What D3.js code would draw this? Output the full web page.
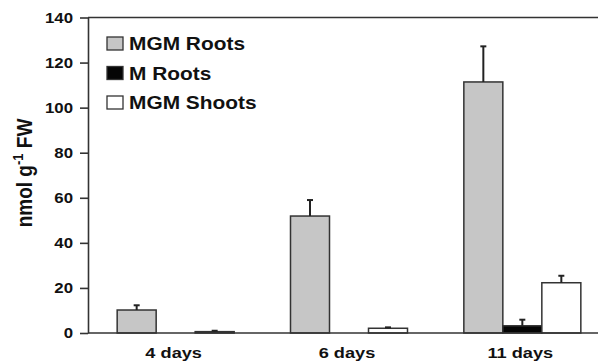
<!DOCTYPE html>
<html>
<head>
	<script src="https://cdn.jsdelivr.net/npm/d3@7"></script>
	<style>
		body { margin: 0; background: #fff; }
		text { font-family: "Liberation Sans", Arial, sans-serif; font-weight: bold; fill: #111; }
	</style>
</head>
<body>
	<script>
		// data
		var categories = ["4 days", "6 days", "11 days"];
		var seriesNames = ["MGM Roots", "M Roots", "MGM Shoots"];
		var seriesFill = ["#c6c6c6", "#050505", "#ffffff"];
		var mgmRoots = [10.2, 51.9, 111.4];
		var mgmRootsErr = [2.1, 7.1, 15.8];
		var mRoots = [0, 0, 3.2];
		var mRootsErr = [0, 0, 2.7];
		var mgmShoots = [0.6, 2.1, 22.3];
		var mgmShootsErr = [0.4, 0.4, 3.1];
		var yTicks = [0, 20, 40, 60, 80, 100, 120, 140];

		var W = 598, H = 363;
		var plotLeft = 88, plotTop = 17.5, plotBottom = 333;

		var svg = d3.select("body").append("svg")
			.attr("width", W)
			.attr("height", H);

		var x = d3.scaleBand()
			.domain(categories)
			.range([89, 609])
			.paddingInner(0.325)
			.paddingOuter(0.1625);

		var xs = d3.scaleBand()
			.domain(seriesNames)
			.range([0, x.bandwidth()]);

		var y = d3.scaleLinear()
			.domain([0, 140])
			.range([plotBottom, plotTop]);

		// table for the bars
		var vals = [mgmRoots, mRoots, mgmShoots];
		var errs = [mgmRootsErr, mRootsErr, mgmShootsErr];
		var rows = [];
		seriesNames.forEach(function(s, i){
			categories.forEach(function(c, j){
				rows.push({ s: s, c: c, v: vals[i][j], e: errs[i][j], fill: seriesFill[i] });
			});
		});

		//top frame line
		svg.append("line")
			.attr("x1", plotLeft).attr("x2", W)
			.attr("y1", y(140)).attr("y2", y(140))
			.style("stroke", "#333").style("stroke-width", 1.6);

		// y axis
		var yAxis = svg.append("g")
			.attr("transform", "translate(" + plotLeft + ",0)")
			.call(d3.axisLeft(y).tickValues(yTicks).tickSize(8).tickSizeOuter(0));
		yAxis.select(".domain").style("stroke", "#333").style("stroke-width", 1.6);
		yAxis.selectAll(".tick line").style("stroke", "#333").style("stroke-width", 1.6);
		yAxis.selectAll(".tick text")
			.attr("x", null)
			.attr("dy", "0.35em")
			.attr("transform", "translate(-15,0) scale(1.2,1)")
			.style("font-size", "14px")
			.style("font-family", "'Liberation Sans', Arial, sans-serif")
			.style("font-weight", "bold")
			.style("fill", "#111");

		// bars
		svg.selectAll("rect.bar")
			.data(rows.filter(function(d){ return d.v > 0; }))
			.enter().append("rect")
			.attr("class", "bar")
			.attr("x", function(d){ return x(d.c) + xs(d.s); })
			.attr("width", xs.bandwidth())
			.attr("y", function(d){ return y(d.v); })
			.attr("height", function(d){ return y(0) - y(d.v); })
			.style("fill", function(d){ return d.fill; })
			.style("stroke", "#333")
			.style("stroke-width", 1.5);

		// error bars (upper only)
		var eb = svg.selectAll("g.err")
			.data(rows.filter(function(d){ return d.e > 0; }))
			.enter().append("g")
			.attr("class", "err")
			.attr("transform", function(d){ return "translate(" + (x(d.c) + xs(d.s) + xs.bandwidth() / 2) + ",0)"; });
		eb.append("line")
			.attr("y1", function(d){ return y(d.v); })
			.attr("y2", function(d){ return y(d.v + d.e); })
			.style("stroke", "#222").style("stroke-width", 2);
		eb.append("line")
			.attr("x1", -3).attr("x2", 3)
			.attr("y1", function(d){ return y(d.v + d.e); })
			.attr("y2", function(d){ return y(d.v + d.e); })
			.style("stroke", "#222").style("stroke-width", 2);

		// x axis
		var xAxis = svg.append("g")
			.attr("transform", "translate(0," + plotBottom + ")")
			.call(d3.axisBottom(x).tickSize(0).tickSizeOuter(0));
		xAxis.select(".domain").attr("d", "M" + plotLeft + ",0H" + W).style("stroke", "#333").style("stroke-width", 1.6);
		xAxis.selectAll(".tick text")
			.attr("y", null)
			.attr("dy", null)
			.attr("transform", "translate(-2,25) scale(1.3,1)")
			.style("font-size", "14px")
			.style("font-family", "'Liberation Sans', Arial, sans-serif")
			.style("font-weight", "bold")
			.style("fill", "#111");

		// y title
		var yt = svg.append("text")
			.attr("transform", "translate(32,173) scale(1.15,1) rotate(-90)")
			.attr("text-anchor", "middle")
			.style("font-size", "19px");
		yt.append("tspan").text("nmol g");
		yt.append("tspan").attr("dy", -8).style("font-size", "13px").text("-1");
		yt.append("tspan").attr("dy", 8).text(" FW");

		// legend
		var leg = svg.selectAll("g.leg")
			.data(seriesNames)
			.enter().append("g")
			.attr("class", "leg")
			.attr("transform", function(d, i){ return "translate(107," + (37 + i * 29.5) + ")"; });
		leg.append("rect")
			.attr("width", 16).attr("height", 13)
			.style("fill", function(d, i){ return seriesFill[i]; })
			.style("stroke", "#333").style("stroke-width", 1.3);
		leg.append("text")
			.attr("transform", "translate(22,13) scale(1.13,1)")
			.style("font-size", "18.5px")
			.text(function(d){ return d; });
	</script>
</body>
</html>
